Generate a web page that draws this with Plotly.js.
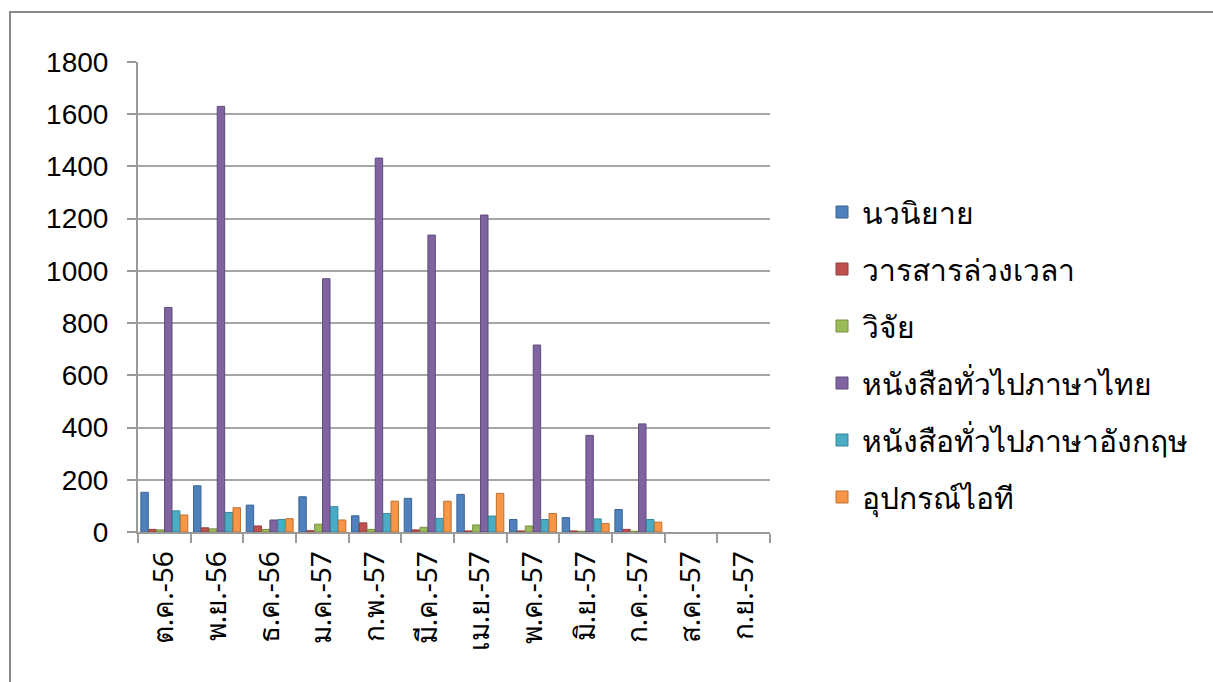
<!DOCTYPE html>
<html>
<head>
<meta charset="utf-8">
<script src="https://cdn.plot.ly/plotly-3.0.1.min.js"></script>
<style>html,body{margin:0;padding:0;background:#fff;}#chart{width:1213px;height:682px;}</style>
</head>
<body>
<div id="chart"></div>
<script>
const months = ["ต.ค.-56","พ.ย.-56","ธ.ค.-56","ม.ค.-57","ก.พ.-57","มี.ค.-57","เม.ย.-57","พ.ค.-57","มิ.ย.-57","ก.ค.-57","ส.ค.-57","ก.ย.-57"];
const seriesNames = ["นวนิยาย","วารสารล่วงเวลา","วิจัย","หนังสือทั่วไปภาษาไทย","หนังสือทั่วไปภาษาอังกฤษ","อุปกรณ์ไอที"];
const novel   = [152, 177, 103, 135, 62, 129, 144, 48, 55, 86, null, null];
const journal = [10, 16, 23, 5, 35, 8, 4, 4, 4, 10, null, null];
const research= [8, 12, 10, 30, 10, 18, 27, 23, 3, 3, null, null];
const thaiBooks = [860, 1630, 46, 970, 1432, 1137, 1214, 716, 370, 414, null, null];
const engBooks  = [81, 75, 48, 97, 71, 52, 61, 48, 50, 48, null, null];
const itEquip   = [65, 93, 51, 46, 118, 118, 148, 71, 33, 38, null, null];
const colors = ["#4F81BD","#C0504D","#9BBB59","#8064A2","#4BACC6","#F79646"];
const lineColors = ["#3A6494","#943C3A","#779040","#5E4A7A","#36869A","#C0712F"];

const allValues = [novel, journal, research, thaiBooks, engBooks, itEquip];
const traces = allValues.map((vals, i) => ({
  type: "bar",
  name: seriesNames[i],
  x: months,
  y: vals,
  legendgroup: "g" + i,
  marker: {color: colors[i], line: {color: lineColors[i], width: 1}},
  hoverinfo: "x+y+name"
}));

const P0x = 138, P1x = 770, P0y = 532, P1y = 62;
const W = P1x - P0x, H = P0y - P1y;
const px = v => (v - P0x) / W;
const py = v => (P0y - v) / H;

const layout = {
  width: 1213, height: 682,
  margin: {l: P0x, r: 1213 - P1x, t: P1y, b: 682 - P0y, pad: 0},
  paper_bgcolor: "#ffffff",
  plot_bgcolor: "#ffffff",
  font: {family: "Liberation Sans, Arial, Noto Sans, sans-serif", color: "#000000"},
  barmode: "group",
  bargap: 0.1,
  bargroupgap: 0.06,
  showlegend: true,
  legend: {
    x: px(822), y: py(186), xanchor: "left", yanchor: "top",
    font: {size: 30, color: "#000000", family: "Tahoma, Noto Sans, DejaVu Sans, sans-serif"},
    traceorder: "grouped", tracegroupgap: 15,
    itemwidth: 30, bgcolor: "rgba(0,0,0,0)"
  },
  xaxis: {
    type: "category",
    tickangle: -90,
    tickfont: {size: 28, color: "#000000", family: "Tahoma, Noto Sans, DejaVu Sans, sans-serif"},
    showgrid: false,
    showline: true, linecolor: "#9a9a9a", linewidth: 2,
    ticks: "outside", tickson: "boundaries", ticklen: 9, tickcolor: "#9a9a9a", tickwidth: 2,
    ticklabelstandoff: 6,
    zeroline: false
  },
  yaxis: {
    range: [0, 1800],
    tickvals: [0,200,400,600,800,1000,1200,1400,1600,1800],
    tickfont: {size: 28, color: "#000000"},
    showgrid: true, gridcolor: "#a6a6a6", gridwidth: 2,
    showline: true, linecolor: "#9a9a9a", linewidth: 2,
    ticks: "outside", ticklen: 9, tickcolor: "#9a9a9a", tickwidth: 2,
    ticklabelstandoff: 13,
    zeroline: false
  },
  shapes: [
    {type: "rect", xref: "paper", yref: "paper",
     x0: px(10), x1: px(1260), y0: py(760), y1: py(12),
     line: {color: "#8a8a8a", width: 2}, fillcolor: "rgba(0,0,0,0)", layer: "below"}
  ]
};

Plotly.newPlot("chart", traces, layout, {displayModeBar: false, staticPlot: true});
</script>
</body>
</html>
